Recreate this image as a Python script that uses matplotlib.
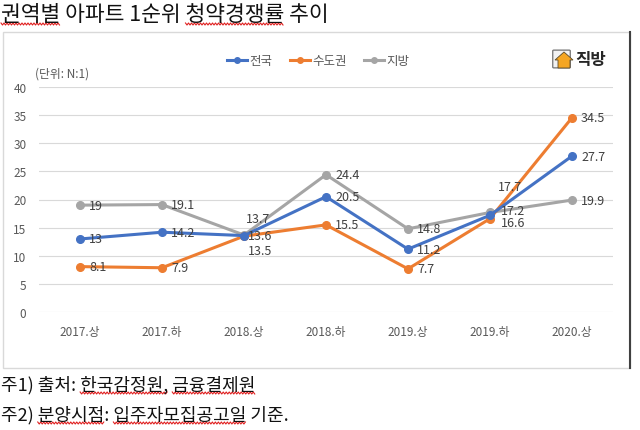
import numpy as np
import matplotlib.pyplot as plt
from matplotlib.lines import Line2D
from matplotlib.patches import Rectangle, FancyBboxPatch, Polygon

plt.rcParams['font.family'] = ['Noto Sans CJK KR', 'DejaVu Sans']

periods = ['2017.상', '2017.하', '2018.상', '2018.하', '2019.상', '2019.하', '2020.상']
nation = [13, 14.2, 13.6, 20.5, 11.2, 17.2, 27.7]
capital = [8.1, 7.9, 13.5, 15.5, 7.7, 16.6, 34.5]
province = [19, 19.1, 13.7, 24.4, 14.8, 17.7, 19.9]

series = [('전국', nation, '#4472C4'),
          ('수도권', capital, '#ED7D31'),
          ('지방', province, '#A5A5A5')]

# label offsets in pixels (dx, dy, ha) per point, default is right of the point
default_off = (9, 0, 'left')
special_off = {
    ('전국', 2): (4, 0, 'left'),
    ('전국', 5): (11, 5, 'left'),
    ('수도권', 2): (16, -14, 'center'),
    ('수도권', 5): (11, -4, 'left'),
    ('지방', 2): (14, 17, 'center'),
    ('지방', 5): (20, 26, 'center'),
}

W, H = 640, 431
fig = plt.figure(figsize=(6.4, 4.31), dpi=100)

def fx(px):
    return px / W

def fy(py):
    return 1 - py / H

# chart frame
fig.patches.append(Rectangle((fx(3), fy(369)), fx(627), (369 - 33) / H,
                             transform=fig.transFigure, fill=False,
                             edgecolor='#D9D9D9', lw=1))
fig.add_artist(Line2D([fx(630), fx(630)], [fy(369), fy(33)],
                      transform=fig.transFigure, color='#404040', lw=1.5))

ax = fig.add_axes([fx(39), fy(313.3), fx(574), (313.3 - 87.7) / H])
x = list(range(len(periods)))
handles = []
for name, vals, col in series[::-1]:
    ax.plot(x, vals, color=col, lw=2.2, marker='o', ms=5.5, zorder=3)
for name, vals, col in series:
    handles.append(Line2D([], [], color=col, lw=2.2, marker='o', ms=4))
    for i, v in enumerate(vals):
        dx, dy, ha = special_off.get((name, i), default_off)
        ax.annotate(f'{v:g}', (i, v), xytext=(dx * 0.72, dy * 0.72),
                    textcoords='offset points', ha=ha, va='center',
                    fontsize=9, color='#404040', zorder=4)

ax.set_xlim(-0.5, 6.5)
ax.set_ylim(0, 40)
ax.set_yticks(range(0, 41, 5))
ax.set_xticks(x)
ax.set_xticklabels(periods)
ax.grid(axis='y', color='#D9D9D9', lw=0.8)
ax.set_axisbelow(True)
for s in ax.spines.values():
    s.set_visible(False)
ax.tick_params(length=0, labelsize=8.5, colors='#595959')
ax.tick_params(axis='y', pad=9)
ax.tick_params(axis='x', pad=9)

fig.legend(handles, [s[0] for s in series], loc='center',
           bbox_to_anchor=(fx(318), fy(62)), ncol=3, frameon=False,
           fontsize=9, handlelength=1.6, handletextpad=0.2,
           columnspacing=1.4, labelcolor='#595959')

fig.text(fx(35), fy(74), '(단위: N:1)', fontsize=8.5, color='#595959',
         va='center')

# logo
fig.patches.append(FancyBboxPatch((fx(554), fy(68)), fx(15), 16 / H,
                                  boxstyle='round,pad=0.002',
                                  transform=fig.transFigure,
                                  facecolor='#F2F2F2', edgecolor='#7F7F7F', lw=1))
fig.patches.append(Polygon([(fx(558), fy(69)), (fx(558), fy(61)), (fx(555), fy(61)),
                            (fx(564), fy(53)), (fx(573), fy(61)), (fx(570), fy(61)),
                            (fx(570), fy(69))], closed=True,
                           transform=fig.transFigure, facecolor='#F5A623',
                           edgecolor='#5A4A2A', lw=0.6))
fig.text(fx(575), fy(60), '직방', fontsize=12, fontweight='bold',
         color='#262626', va='center')

title = fig.text(fx(1), fy(21), '권역별 아파트 1순위 청약경쟁률 추이', fontsize=15.5,
                 color='#111111', va='baseline')
note1 = fig.text(fx(1), fy(390), '주1) 출처: 한국감정원, 금융결제원', fontsize=13,
                 color='#111111', va='baseline')
note2 = fig.text(fx(1), fy(420), '주2) 분양시점: 입주자모집공고일 기준.', fontsize=13,
                 color='#111111', va='baseline')

# red spell-check squiggles under some words
renderer = fig.canvas.get_renderer()

def text_width(t, s):
    if not s:
        return 0
    tmp = fig.text(0, 0, s, fontsize=t.get_fontsize())
    w = tmp.get_window_extent(renderer).width
    tmp.remove()
    return w

def squiggle(t, word):
    s = t.get_text()
    i = s.index(word)
    x0 = t.get_window_extent(renderer).x0 + text_width(t, s[:i])
    x1 = x0 + text_width(t, word)
    yb = t.get_position()[1] * H - 4
    xs = np.arange(x0, x1 + 0.1, 1.5)
    ys = yb + np.where(np.arange(len(xs)) % 2 == 0, 1.0, -1.0)
    fig.add_artist(Line2D(xs / W, ys / H, transform=fig.transFigure,
                          color='#E02020', lw=0.8))

squiggle(title, '권역별')
squiggle(title, '청약경쟁률')
squiggle(note1, '한국감정원,')
squiggle(note1, '금융결제원')
squiggle(note2, '분양시점')
squiggle(note2, '입주자모집공고일')

fig.savefig('out.png', dpi=100, facecolor='white')
